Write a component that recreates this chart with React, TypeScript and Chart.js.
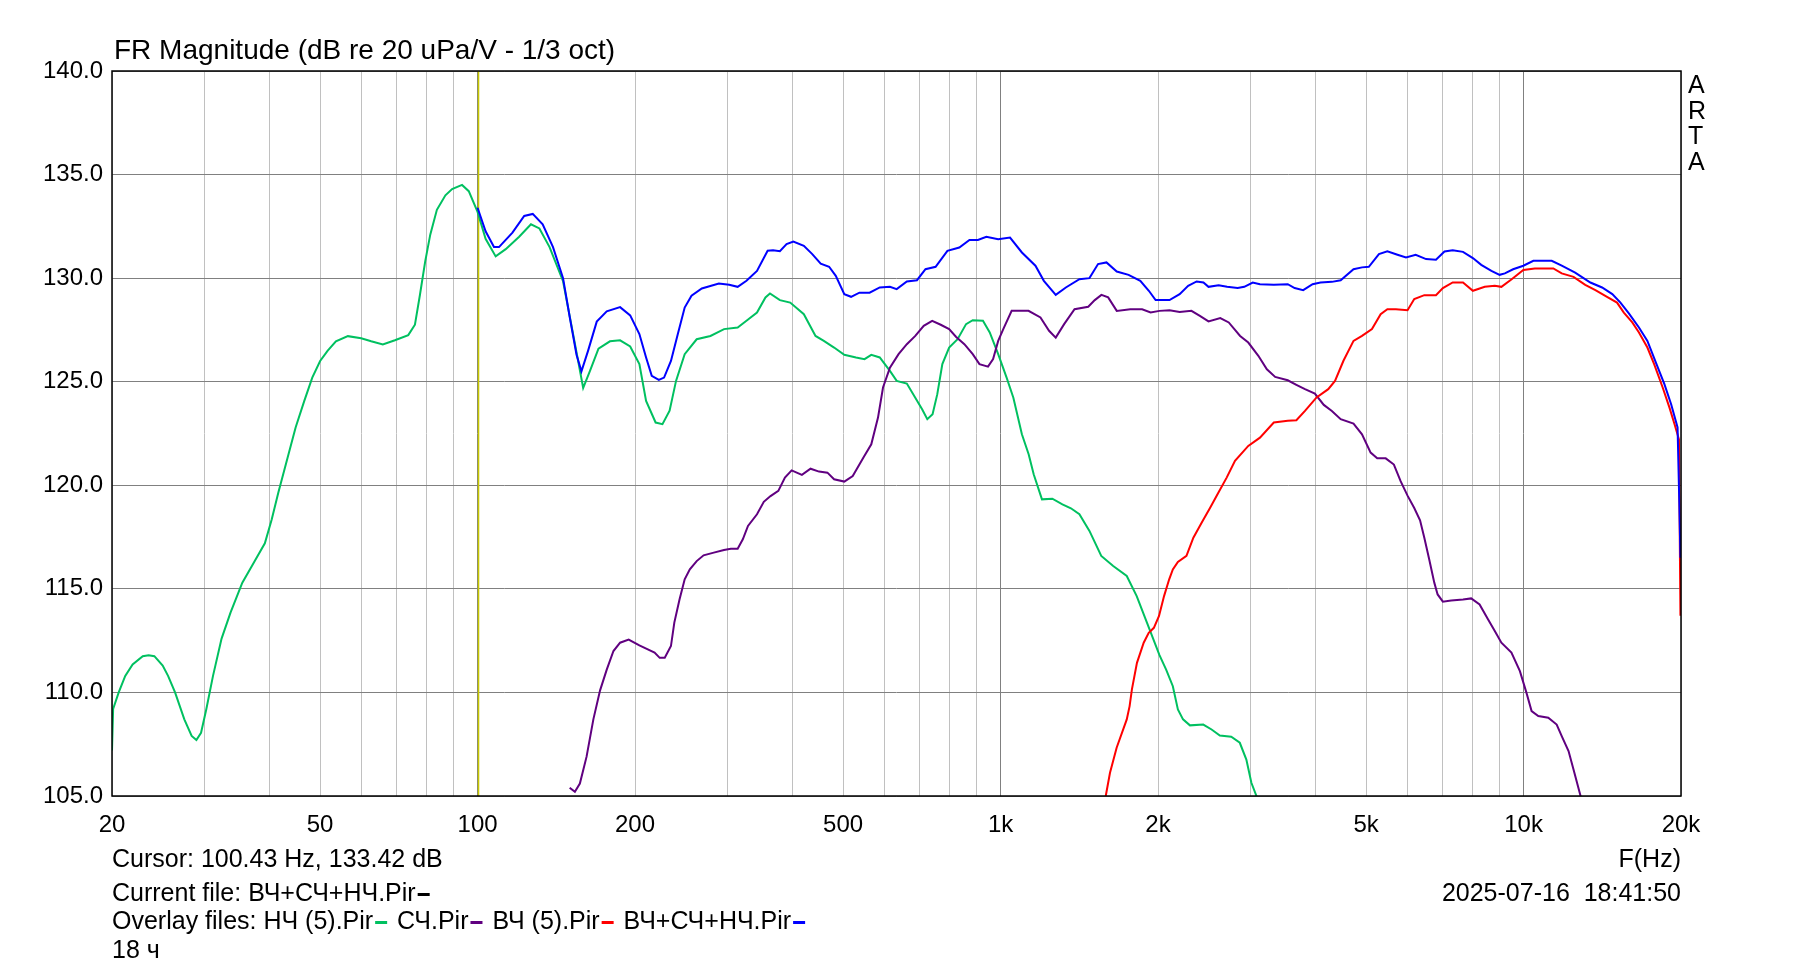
import React, { useEffect, useRef } from 'react';
import { Chart, registerables } from 'chart.js';

Chart.register(...registerables);

// ---------------- DATA ----------------
const woofFreq = [20, 20.1, 20.6, 21.2, 21.9, 22.9, 23.5, 24.1, 25.0, 25.6, 26.4, 27.5, 28.4, 29.0, 29.6, 30.3, 31.2, 32.4, 33.7, 35.5, 37.4, 39.2, 40.4, 41.6, 43.3, 44.9, 46.6, 48.3, 50, 51.7, 53.6, 56.5, 59.9, 62.6, 65.9, 69.5, 73.7, 75.9, 77.6, 79.4, 81.2, 83.6, 86.8, 89.4, 93.4, 96.2, 100, 103.6, 108.3, 113.2, 120.1, 126.5, 131.3, 137.3, 145.7, 152.3, 159.2, 163.9, 170.3, 179.1, 187.3, 195.8, 203.9, 210, 219, 225.7, 232.9, 239.6, 248.9, 262.4, 278.8, 296, 314.3, 326.7, 342.2, 355.2, 362.3, 378.5, 396.1, 420.6, 442.8, 459.3, 480.5, 502.6, 529.2, 549.4, 566, 587.5, 614.4, 633, 661.9, 687, 708, 724.3, 741.3, 756.9, 773.9, 797.4, 827.6, 859.1, 884.7, 925.4, 953.5, 989.6, 1027, 1058, 1098.5, 1131.6, 1157, 1200, 1256, 1313, 1363, 1415, 1479, 1558, 1642, 1743, 1821, 1905, 2013, 2073, 2135, 2183, 2233, 2302, 2441, 2532, 2626, 2761, 2867, 2951, 3017, 3085, 3150];
const woofDb = [107.2, 109.2, 110.0, 110.8, 111.35, 111.75, 111.8, 111.75, 111.3, 110.8, 110.0, 108.7, 107.9, 107.7, 108.05, 109.2, 110.8, 112.6, 113.85, 115.3, 116.3, 117.2, 118.35, 119.65, 121.3, 122.8, 124.05, 125.2, 126.0, 126.5, 126.95, 127.2, 127.1, 126.95, 126.8, 127.0, 127.25, 127.75, 129.2, 130.8, 132.1, 133.3, 134.0, 134.3, 134.5, 134.2, 133.2, 131.9, 131.05, 131.4, 132.0, 132.6, 132.4, 131.5, 129.85, 127.3, 124.7, 125.5, 126.6, 126.95, 127.0, 126.7, 125.85, 124.07, 123.03, 122.95, 123.6, 125.04, 126.33, 127.05, 127.21, 127.54, 127.62, 127.94, 128.34, 129.07, 129.26, 128.94, 128.82, 128.26, 127.21, 126.97, 126.65, 126.3, 126.17, 126.09, 126.3, 126.17, 125.52, 125.04, 124.91, 124.23, 123.67, 123.19, 123.43, 124.4, 125.85, 126.65, 127.05, 127.78, 127.97, 127.94, 127.38, 126.33, 125.2, 124.23, 122.46, 121.5, 120.53, 119.32, 119.35, 119.08, 118.89, 118.6, 117.8, 116.59, 116.1, 115.62, 114.65, 113.37, 111.8, 111.1, 110.3, 109.18, 108.7, 108.41, 108.45, 108.21, 107.92, 107.86, 107.57, 106.76, 105.64, 105.0, 104.0];

const midFreq = [150, 153.5, 156.9, 161.6, 166.5, 171.5, 176.6, 181.9, 187.3, 194.5, 203.9, 211.6, 218, 223, 228, 234.3, 237.8, 243.3, 248.9, 254.6, 262.4, 270.5, 282.9, 295.9, 305, 314.3, 321.5, 328.9, 342.2, 352.6, 363.2, 375.9, 387, 398.6, 417, 433.2, 449.7, 466.6, 480.5, 502.6, 521.6, 546.8, 566, 583, 596, 614.4, 638.2, 661.9, 687, 713, 740, 768.4, 797.4, 821.6, 852.7, 884.7, 911.3, 946.3, 967.7, 989.6, 1012, 1050, 1131, 1192, 1238, 1275, 1323, 1385, 1471, 1514, 1559, 1606, 1668, 1770, 1865, 1936, 2013, 2104, 2200, 2317, 2405, 2498, 2631, 2731, 2871, 2976, 3111, 3230, 3350, 3541, 3678, 3820, 3990, 4150, 4300, 4470, 4730, 4910, 5100, 5250, 5450, 5650, 5820, 6000, 6180, 6340, 6460, 6600, 6750, 6850, 7010, 7270, 7660, 7940, 8240, 8550, 8810, 9070, 9480, 9840, 10130, 10360, 10670, 11150, 11570, 11830, 12190, 12460, 12830, 13000];
const midDb = [105.4, 105.2, 105.6, 106.9, 108.7, 110.1, 111.1, 112.0, 112.4, 112.55, 112.27, 112.08, 111.92, 111.67, 111.67, 112.24, 113.37, 114.49, 115.46, 115.94, 116.34, 116.62, 116.75, 116.88, 116.94, 116.94, 117.39, 118.04, 118.6, 119.2, 119.48, 119.73, 120.37, 120.72, 120.5, 120.8, 120.66, 120.61, 120.29, 120.18, 120.45, 121.34, 121.98, 123.27, 124.72, 125.68, 126.33, 126.81, 127.21, 127.7, 127.94, 127.75, 127.54, 127.17, 126.81, 126.33, 125.85, 125.73, 126.09, 126.97, 127.54, 128.42, 128.42, 128.1, 127.46, 127.13, 127.78, 128.5, 128.62, 128.94, 129.19, 129.07, 128.42, 128.5, 128.5, 128.34, 128.42, 128.45, 128.37, 128.42, 128.18, 127.91, 128.07, 127.86, 127.21, 126.89, 126.25, 125.6, 125.23, 125.07, 124.85, 124.64, 124.43, 123.88, 123.59, 123.19, 122.98, 122.46, 121.58, 121.3, 121.3, 121.0, 120.2, 119.5, 118.9, 118.31, 117.47, 116.43, 115.3, 114.73, 114.38, 114.44, 114.49, 114.54, 114.25, 113.53, 112.96, 112.4, 111.92, 111.03, 109.98, 109.1, 108.86, 108.78, 108.45, 107.89, 107.17, 106.28, 105.07, 104.5];

const tweetFreq = [1560, 1589, 1619, 1667, 1743, 1765, 1783, 1823, 1878, 1920, 1964, 2009, 2054, 2101, 2135, 2183, 2267, 2337, 2425, 2516, 2610, 2706, 2807, 2976, 3133, 3330, 3541, 3678, 3820, 4020, 4232, 4360, 4525, 4730, 4910, 5130, 5330, 5490, 5700, 6000, 6180, 6460, 6800, 7010, 7320, 7660, 8000, 8430, 8810, 9070, 9490, 9990, 10510, 10990, 11400, 11830, 12460, 13120, 13720, 14440, 15090, 15550, 16140, 16620, 17250, 17770, 18450, 19010, 19440, 19820, 19950];
const tweetDb = [104.5, 105.0, 106.12, 107.33, 108.7, 109.34, 110.15, 111.43, 112.4, 112.88, 113.12, 113.69, 114.65, 115.46, 115.94, 116.3, 116.59, 117.47, 118.2, 118.92, 119.65, 120.37, 121.18, 121.9, 122.3, 123.03, 123.11, 123.14, 123.59, 124.24, 124.64, 125.04, 126.01, 126.97, 127.21, 127.54, 128.26, 128.5, 128.5, 128.45, 128.99, 129.18, 129.18, 129.52, 129.79, 129.79, 129.39, 129.58, 129.63, 129.58, 129.95, 130.39, 130.47, 130.47, 130.47, 130.23, 130.06, 129.68, 129.42, 129.1, 128.82, 128.34, 127.86, 127.38, 126.65, 125.85, 124.72, 123.75, 122.95, 122.22, 113.7];

const sumFreq = [100, 103.6, 107.5, 109.9, 116.6, 122.8, 127.5, 133.2, 139.4, 145.7, 150.1, 154.6, 158, 162.7, 169, 176.6, 187.3, 195.8, 203.9, 210, 215.3, 222.1, 227.3, 234.3, 241.5, 248.9, 256.5, 268.4, 289.3, 302.8, 314.3, 326.7, 342.2, 358.6, 367.3, 378.5, 389.8, 401.6, 420.6, 436.5, 453, 470.1, 484.1, 502.6, 517.8, 537.2, 561.8, 587.5, 614.4, 633, 661.9, 692.1, 718.5, 751.3, 791.3, 833.9, 872, 905.1, 939.3, 989.6, 1042.6, 1098.5, 1166, 1210, 1275, 1333, 1415, 1479, 1536, 1594, 1668, 1757, 1850, 1921, 1979, 2013, 2104, 2200, 2284, 2371, 2443, 2498, 2612, 2711, 2840, 2924, 3035, 3133, 3330, 3541, 3650, 3790, 3950, 4090, 4300, 4470, 4730, 4910, 5060, 5290, 5490, 5740, 5960, 6220, 6510, 6800, 7060, 7320, 7660, 8000, 8300, 8680, 9000, 9210, 9550, 9990, 10440, 11320, 11830, 12550, 13420, 14130, 14780, 15320, 15910, 16620, 17250, 17900, 18590, 19150, 19700, 19850, 19950];
const sumDb = [133.4, 132.26, 131.5, 131.5, 132.2, 133.0, 133.1, 132.6, 131.5, 130.0, 128.1, 126.3, 125.5, 126.5, 127.9, 128.4, 128.6, 128.2, 127.3, 126.17, 125.28, 125.09, 125.2, 126.0, 127.3, 128.58, 129.15, 129.5, 129.74, 129.68, 129.58, 129.87, 130.35, 131.32, 131.35, 131.3, 131.64, 131.77, 131.56, 131.16, 130.7, 130.55, 130.11, 129.23, 129.1, 129.3, 129.3, 129.55, 129.58, 129.47, 129.84, 129.9, 130.43, 130.55, 131.32, 131.48, 131.84, 131.84, 132.0, 131.88, 131.96, 131.24, 130.6, 129.87, 129.19, 129.55, 129.95, 130.0, 130.68, 130.76, 130.32, 130.16, 129.87, 129.39, 128.94, 128.94, 128.94, 129.23, 129.63, 129.84, 129.79, 129.58, 129.66, 129.58, 129.52, 129.58, 129.79, 129.71, 129.68, 129.71, 129.52, 129.42, 129.71, 129.79, 129.82, 129.9, 130.43, 130.52, 130.55, 131.16, 131.29, 131.13, 131.0, 131.13, 130.92, 130.89, 131.29, 131.35, 131.27, 130.97, 130.64, 130.35, 130.16, 130.23, 130.43, 130.6, 130.84, 130.84, 130.6, 130.27, 129.79, 129.55, 129.23, 128.82, 128.29, 127.62, 126.97, 125.93, 124.88, 123.91, 122.79, 119.2, 116.5];

const xGridTicks = [20, 30, 40, 50, 60, 70, 80, 90, 100, 200, 300, 400, 500, 600, 700, 800, 900, 1000, 2000, 3000, 4000, 5000, 6000, 7000, 8000, 9000, 10000, 20000];
const xLabelValues = [20, 50, 100, 200, 500, 1000, 2000, 5000, 10000, 20000];
const xLabelTexts = ['20', '50', '100', '200', '500', '1k', '2k', '5k', '10k', '20k'];
const yTicks = [105, 110, 115, 120, 125, 130, 135, 140];

const cursorFreq = 100.43;
const titleText = 'FR Magnitude (dB re 20 uPa/V - 1/3 oct)';
const cursorText = 'Cursor: 100.43 Hz, 133.42 dB';
const currentText = 'Current file: ВЧ+СЧ+НЧ.Pir';
const overlayLabel = 'Overlay files: ';
const overlayNames = ['НЧ (5).Pir', 'СЧ.Pir', 'ВЧ (5).Pir', 'ВЧ+СЧ+НЧ.Pir'];
const noteText = '18 ч';
const dateText = '2025-07-16  18:41:50';
const axisText = 'F(Hz)';
const brandText = ['A', 'R', 'T', 'A'];

// ---------------- STYLE / LAYOUT ----------------
const W = 1793;
const H = 966;
const PLOT_LEFT = 112;
const PLOT_TOP = 71;
const PLOT_RIGHT = 1681;
const PLOT_BOTTOM = 796;
const X_AXIS_H = 60;
const FONT = '"Liberation Sans", Arial, sans-serif';
const TICK_SIZE = 24;
const TEXT_SIZE = 25;
const TITLE_SIZE = 28;

const GREEN = '#00c060';
const PURPLE = '#600080';
const RED = '#ff0000';
const BLUE = '#0000ff';
const seriesColors = [GREEN, PURPLE, RED, BLUE];

const zip = (f: number[], d: number[]) => f.map((x, i) => ({ x, y: d[i] }));

const overlayPlugin = {
  id: 'artaOverlay',
  beforeDatasetsDraw(chart: any) {
    const { ctx, chartArea } = chart;
    const xs = chart.scales.x;
    const px = xs.getPixelForValue(cursorFreq);
    ctx.save();
    ctx.strokeStyle = '#c8c800';
    ctx.lineWidth = 1.5;
    ctx.beginPath();
    ctx.moveTo(px, chartArea.top);
    ctx.lineTo(px, chartArea.bottom);
    ctx.stroke();
    ctx.restore();
  },
  afterDraw(chart: any) {
    const { ctx, chartArea } = chart;
    ctx.save();
    // plot frame
    ctx.strokeStyle = '#000';
    ctx.lineWidth = 1.5;
    ctx.strokeRect(chartArea.left, chartArea.top, chartArea.right - chartArea.left, chartArea.bottom - chartArea.top);

    ctx.fillStyle = '#000';
    ctx.textBaseline = 'middle';
    // title
    ctx.font = `${TITLE_SIZE}px ${FONT}`;
    ctx.textAlign = 'left';
    ctx.fillText(titleText, chartArea.left + 2, 51);

    // ARTA
    ctx.font = `${TEXT_SIZE}px ${FONT}`;
    brandText.forEach((ch, i) => {
      ctx.fillText(ch, chartArea.right + 7, 86 + i * 25.8);
    });

    // bottom texts
    const lx = chartArea.left;
    ctx.textAlign = 'left';
    ctx.fillText(cursorText, lx, 860);
    ctx.fillText(currentText, lx, 894);
    const w = ctx.measureText(currentText).width;
    ctx.fillRect(lx + w + 2, 893, 12, 3);

    let x = lx;
    ctx.fillText(overlayLabel, x, 922);
    x += ctx.measureText(overlayLabel).width;
    overlayNames.forEach((name, i) => {
      ctx.fillStyle = '#000';
      ctx.fillText(name, x, 922);
      x += ctx.measureText(name).width;
      ctx.fillStyle = seriesColors[i];
      ctx.fillRect(x + 2, 921, 12, 3);
      x += 17 + ctx.measureText(' ').width;
    });
    ctx.fillStyle = '#000';
    ctx.fillText(noteText, lx, 951);

    ctx.textAlign = 'right';
    ctx.fillText(axisText, chartArea.right, 860);
    ctx.fillText(dateText, chartArea.right, 894);
    ctx.restore();
  },
};

export default function App() {
  const ref = useRef<HTMLCanvasElement | null>(null);

  useEffect(() => {
    document.body.style.margin = '0';
    const canvas = ref.current;
    if (!canvas) return;
    const mk = (label: string, f: number[], d: number[], color: string, order: number) => ({
      label,
      data: zip(f, d),
      borderColor: color,
      backgroundColor: color,
      borderWidth: 2,
      pointRadius: 0,
      fill: false,
      tension: 0,
      order,
    });
    const chart = new Chart(canvas, {
      type: 'line',
      data: {
        datasets: [
          mk(overlayNames[0], woofFreq, woofDb, GREEN, 4),
          mk(overlayNames[1], midFreq, midDb, PURPLE, 3),
          mk(overlayNames[2], tweetFreq, tweetDb, RED, 2),
          mk(overlayNames[3], sumFreq, sumDb, BLUE, 1),
        ],
      },
      options: {
        animation: false,
        responsive: false,
        devicePixelRatio: 1,
        layout: {
          padding: { left: 0, top: PLOT_TOP, right: W - PLOT_RIGHT, bottom: H - PLOT_BOTTOM - X_AXIS_H },
        },
        plugins: { legend: { display: false }, tooltip: { enabled: false }, title: { display: false } },
        scales: {
          x: {
            type: 'logarithmic',
            min: 20,
            max: 20000,
            afterBuildTicks: (s: any) => {
              s.ticks = xGridTicks.map((v) => ({ value: v }));
            },
            afterFit: (s: any) => {
              s.height = X_AXIS_H;
              s.paddingLeft = 0;
              s.paddingRight = 0;
            },
            ticks: {
              autoSkip: false,
              maxRotation: 0,
              minRotation: 0,
              padding: 15,
              color: '#000',
              font: { family: FONT, size: TICK_SIZE },
              callback: (v: any) => {
                const i = xLabelValues.indexOf(Number(v));
                return i >= 0 ? xLabelTexts[i] : '';
              },
            },
            grid: {
              drawTicks: false,
              lineWidth: 1,
              color: (c: any) => {
                const v = c.tick ? c.tick.value : 0;
                return v === 100 || v === 1000 || v === 10000 ? '#808080' : '#c0c0c0';
              },
            },
            border: { display: false },
          },
          y: {
            type: 'linear',
            min: 105,
            max: 140,
            afterBuildTicks: (s: any) => {
              s.ticks = yTicks.map((v) => ({ value: v }));
            },
            afterFit: (s: any) => {
              s.width = PLOT_LEFT;
              s.paddingTop = 0;
              s.paddingBottom = 0;
            },
            ticks: {
              padding: 9,
              color: '#000',
              font: { family: FONT, size: TICK_SIZE },
              callback: (v: any) => Number(v).toFixed(1),
            },
            grid: { drawTicks: false, lineWidth: 1, color: '#808080' },
            border: { display: false },
          },
        },
      } as any,
      plugins: [overlayPlugin],
    });
    return () => chart.destroy();
  }, []);

  return (
    <div style={{ position: 'absolute', left: 0, top: 0, width: W, height: H, background: '#fff' }}>
      <canvas ref={ref} width={W} height={H} style={{ display: 'block', width: W, height: H }} />
    </div>
  );
}
